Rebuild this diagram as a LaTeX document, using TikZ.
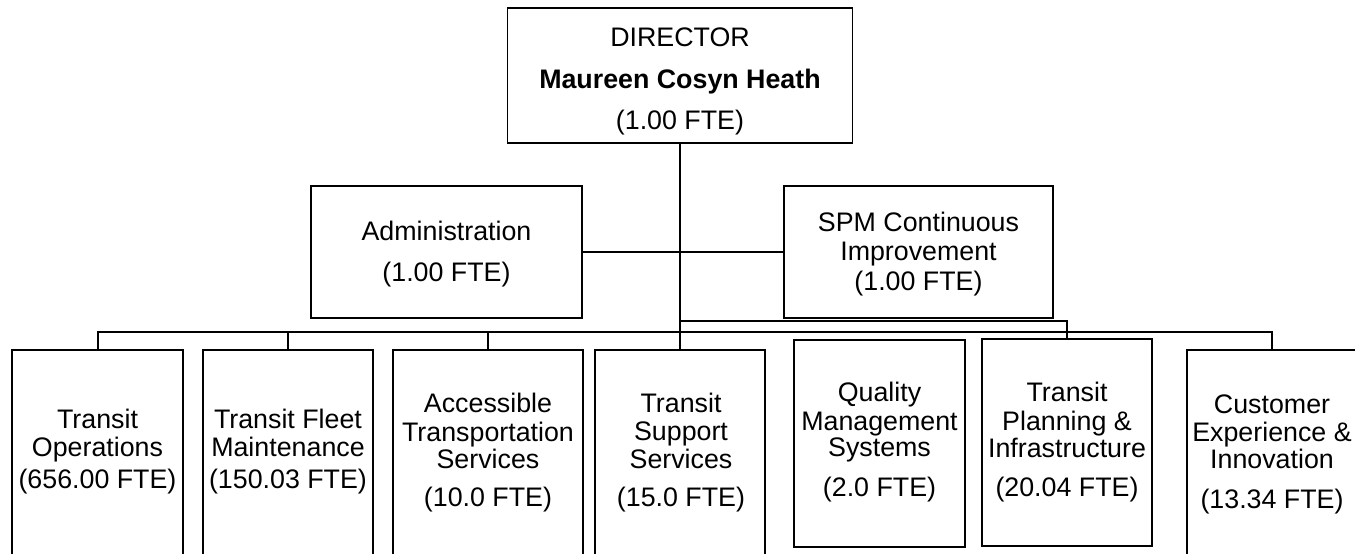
\documentclass[tikz,border=0pt]{standalone}
\usepackage{fontspec}
\setmainfont{Liberation Sans}
\begin{document}
\begin{tikzpicture}[x=1pt,y=-1pt,
  box/.style={draw, line width=1.8pt, inner sep=0pt, rectangle},
  lbl/.style={anchor=base, inner sep=0pt, font=\fontsize{26.8}{30}\selectfont},
  conn/.style={line width=1.3pt},
  trunk/.style={line width=2.6pt},
  busl/.style={line width=2pt}]
\useasboundingbox (0,0) rectangle (1355,554);
\clip (0,0) rectangle (1355,554);
\fill[white] (0,0) rectangle (1355,554);

% boxes
\node[box, minimum width=345pt, minimum height=135pt] (dir) at (680,75.5) {};
\node[box, minimum width=271pt, minimum height=132pt] (adm) at (446.5,252) {};
\node[box, minimum width=269pt, minimum height=132pt] (spm) at (918.5,252) {};
\node[box, minimum width=171pt, minimum height=250pt] (ops) at (97.5,475) {};
\node[box, minimum width=170pt, minimum height=250pt] (flt) at (288,475) {};
\node[box, minimum width=190pt, minimum height=250pt] (acc) at (488,475) {};
\node[box, minimum width=170pt, minimum height=250pt] (sup) at (680,475) {};
\node[box, minimum width=171pt, minimum height=207pt] (qms) at (879.5,443.5) {};
\node[box, minimum width=170pt, minimum height=207pt] (tpi) at (1067,442.5) {};
\node[box, minimum width=170pt, minimum height=250pt] (cxi) at (1272,475) {};

% connectors
\coordinate (busj) at (680,332);
\coordinate (pj) at (680,321);
\draw[trunk] (dir.south) -- (sup.north);
\draw[conn] (adm.east) -- (spm.west);
\draw[busl] (ops.north) |- (busj);
\draw[conn] (flt.north) -- (flt.north |- busj);
\draw[conn] (acc.north) -- (acc.north |- busj);
\draw[conn] (busj) -| (cxi.north);
\draw[conn] (pj) -| (tpi.north);

% texts
\node[lbl] (d1) at (680,46.5) {DIRECTOR};
\node[lbl] (d2) at (680,88) {\bfseries Maureen Cosyn Heath};
\node[lbl] (d3) at (680,129.5) {(1.00 FTE)};

\node[lbl] (a1) at (446.5,240) {Administration};
\node[lbl] (a2) at (446.5,281.5) {(1.00 FTE)};

\node[lbl] (s1) at (918.5,231.7) {SPM Continuous};
\node[lbl] (s2) at (918.5,260) {Improvement};
\node[lbl] (s3) at (918.5,290.7) {(1.00 FTE)};

\node[lbl] (o1) at (97.5,428.3) {Transit};
\node[lbl] (o2) at (97.5,456.7) {Operations};
\node[lbl] (o3) at (97.5,488.3) {(656.00 FTE)};

\node[lbl] (f1) at (288,428.3) {Transit Fleet};
\node[lbl] (f2) at (288,456.7) {Maintenance};
\node[lbl] (f3) at (288,488.3) {(150.03 FTE)};

\node[lbl] (c1) at (488,412.5) {Accessible};
\node[lbl] (c2) at (488,441) {Transportation};
\node[lbl] (c3) at (488,468.3) {Services};
\node[lbl] (c4) at (488,506.7) {(10.0 FTE)};

\node[lbl] (u1) at (681,412) {Transit};
\node[lbl] (u2) at (681,440.5) {Support};
\node[lbl] (u3) at (681,468.3) {Services};
\node[lbl] (u4) at (681,506.7) {(15.0 FTE)};

\node[lbl] (q1) at (879.5,401.7) {Quality};
\node[lbl] (q2) at (879.5,430) {Management};
\node[lbl] (q3) at (879.5,456.7) {Systems};
\node[lbl] (q4) at (879.5,496.7) {(2.0 FTE)};

\node[lbl] (p1) at (1067,401) {Transit};
\node[lbl] (p2) at (1067,430) {Planning \&};
\node[lbl] (p3) at (1067,457) {Infrastructure};
\node[lbl] (p4) at (1067,496.7) {(20.04 FTE)};

\node[lbl] (x1) at (1272,413) {Customer};
\node[lbl] (x2) at (1272,441.7) {Experience \&};
\node[lbl] (x3) at (1272,468.3) {Innovation};
\node[lbl] (x4) at (1272,508.3) {(13.34 FTE)};
\end{tikzpicture}
\end{document}
